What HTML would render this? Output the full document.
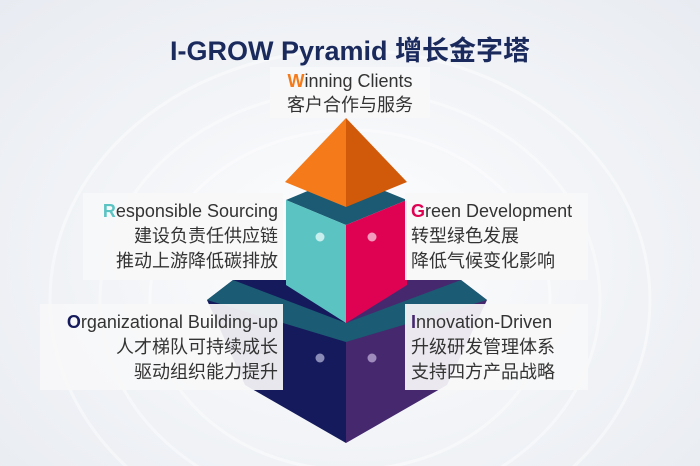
<!DOCTYPE html>
<html><head><meta charset="utf-8"><style>
html,body{margin:0;padding:0;overflow:hidden}
body{width:700px;height:466px;position:relative;font-family:"Liberation Sans","Noto Sans CJK SC",sans-serif;
background:radial-gradient(ellipse at 50% 55%,#ffffff 0%,#f3f5f8 45%,#e8ebf1 100%);}
.title{position:absolute;left:0;width:700px;top:29px;text-align:center;font-size:27px;font-weight:bold;color:#1b2a5c;white-space:nowrap}
.box{position:absolute;background:rgba(248,248,249,0.93);color:#333;font-size:18px;line-height:25px;padding-top:6px;box-sizing:border-box;white-space:nowrap;overflow:hidden}
.r{text-align:right;padding-right:5px}
.l{text-align:left;padding-left:6px}
.c{text-align:center}
b{font-weight:bold}
</style></head><body>
<svg width="700" height="466" style="position:absolute;left:0;top:0">
<g fill="none" stroke="#ffffff" stroke-width="3" opacity="0.45">
<ellipse cx="350" cy="300" rx="300" ry="250"/>
<ellipse cx="350" cy="300" rx="250" ry="210"/>
<ellipse cx="350" cy="300" rx="200" ry="170"/>
</g>
<polygon points="207,300 233,280 346,280 346,443 245,385" fill="#141a5c"/>
<polygon points="487,300 461,280 346,280 346,443 447,385" fill="#45286e"/>
<polygon points="233,280 346,323 461,280 487,300 346,342 207,300" fill="#1b5b73"/>
<polygon points="286,200 346,175 407,200 346,225" fill="#1b5a72"/>
<polygon points="286,200 346,225 346,323 286,285" fill="#5cc3c3"/>
<polygon points="407,200 346,225 346,323 407,285" fill="#e00252"/>
<polygon points="346,118 285,182 346,207" fill="#f47a1a"/>
<polygon points="346,118 407,182 346,207" fill="#d15a0a"/>
<circle cx="320" cy="237" r="4.5" fill="#c8eeee"/>
<circle cx="372" cy="237" r="4.5" fill="#f39bbc"/>
<circle cx="320" cy="358" r="4.5" fill="#8a8cb8"/>
<circle cx="372" cy="358" r="4.5" fill="#a08bbd"/>
</svg>
<div class="title">I-GROW Pyramid 增长金字塔</div>
<div class="box c" style="left:270px;top:67px;width:160px;height:51px;padding-top:2px;line-height:24px"><b style="color:#f47a1a">W</b>inning Clients<br>客户合作与服务</div>
<div class="box r" style="left:83px;top:193px;width:200px;height:87px"><b style="color:#5cc3c3">R</b>esponsible Sourcing<br>建设负责任供应链<br>推动上游降低碳排放</div>
<div class="box r" style="left:40px;top:304px;width:243px;height:86px"><b style="color:#141a5c">O</b>rganizational Building-up<br>人才梯队可持续成长<br>驱动组织能力提升</div>
<div class="box l" style="left:405px;top:193px;width:183px;height:87px"><b style="color:#e00252">G</b>reen Development<br>转型绿色发展<br>降低气候变化影响</div>
<div class="box l" style="left:405px;top:304px;width:183px;height:86px"><b style="color:#45286e">I</b>nnovation-Driven<br>升级研发管理体系<br>支持四方产品战略</div>
</body></html>
